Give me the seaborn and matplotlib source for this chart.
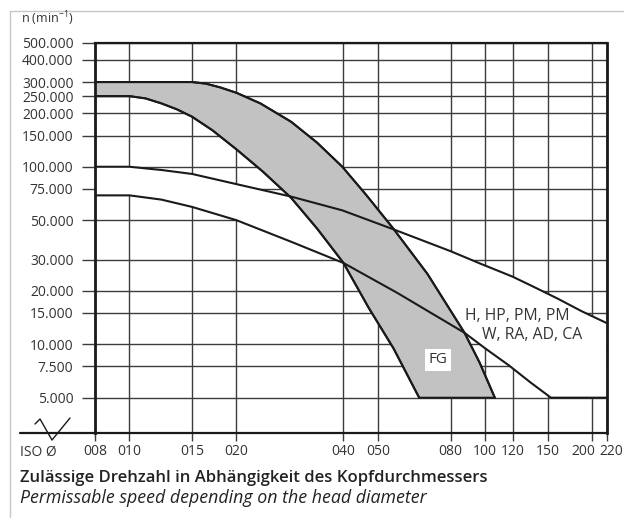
import matplotlib
matplotlib.use("Agg")
import matplotlib.pyplot as plt
import seaborn as sns
import pandas as pd
from matplotlib.lines import Line2D
from matplotlib.ticker import NullLocator
from matplotlib.transforms import ScaledTranslation


# ---------------------------------------------------------------------
# Data (x = ISO head diameter, y = n in min^-1)
# ---------------------------------------------------------------------
x_ticks = [8, 10, 15, 20, 40, 50, 80, 100, 120, 150, 200, 220]
x_labels = ["008", "010", "015", "020", "040", "050", "080", "100", "120", "150", "200", "220"]

y_ticks = [5000, 7500, 10000, 15000, 20000, 30000, 50000, 75000,
           100000, 150000, 200000, 250000, 300000, 400000, 500000]
y_labels = ["5.000", "7.500", "10.000", "15.000", "20.000", "30.000", "50.000", "75.000",
            "100.000", "150.000", "200.000", "250.000", "300.000", "400.000", "500.000"]

# FG band, upper and lower limit
fg_upper_d = [8, 15, 16.4, 18.0, 20, 23.35, 28.5, 33.7, 39.7, 46.5, 55.3, 68.9, 87.6, 96.6, 106.6]
fg_upper_n = [300000, 300000, 294000, 280000, 261000, 227500, 179200, 136800, 100000,
              68800, 44700, 24900, 11600, 7880, 5000]
fg_lower_d = [8, 10, 11.1, 12.3, 13.6, 15, 17.1, 20, 23.7, 28.5, 33.7, 40, 47.0, 55.3, 65.3]
fg_lower_n = [250000, 250000, 242700, 227500, 210600, 191400, 160700, 125300, 94100,
              66800, 44900, 28700, 16150, 9480, 5000]

# H, HP, PM curve (upper limit of the white band)
hp_d = [8, 10, 12.3, 15, 20.4, 28.5, 39.7, 55.3, 80, 97.3, 119.4, 137.5, 160.3, 186.7, 220]
hp_n = [100000, 100000, 95900, 91100, 79100, 67900, 56800, 44400, 33460, 28400,
        24070, 21000, 18060, 15380, 13160]

# W, RA, AD, CA curve (lower limit of the white band)
wra_d = [8, 10, 12.3, 15, 20, 28.5, 40, 56.6, 87.6, 100.5, 116.8, 134.2, 153.3, 220]
wra_n = [69000, 69000, 65300, 59400, 50000, 37800, 28700, 19500, 11600, 9430,
         7600, 6100, 5000, 5000]

x_lim = (8, 220)
y_lim = (3150, 500000)

W, H = 624, 518
AX_L, AX_R, AX_T, AX_B = 95, 606.7, 42.7, 433.3

GRID = "#3c3c3c"
INK = "#1a1a1a"
BAND = "#c2c2c2"
TXT = "#333333"


def px_to_axes(px, py):
    return (px - AX_L) / (AX_R - AX_L), (AX_B - py) / (AX_B - AX_T)


# ---------------------------------------------------------------------
# Figure
# ---------------------------------------------------------------------
sns.set_theme(style="white")
plt.rcParams["font.family"] = ["Open Sans", "DejaVu Sans"]
plt.rcParams["mathtext.fontset"] = "custom"
plt.rcParams["mathtext.rm"] = "Open Sans"

fig = plt.figure(figsize=(W / 100, H / 100), dpi=100)
ax = fig.add_axes([AX_L / W, 1 - AX_B / H, (AX_R - AX_L) / W, (AX_B - AX_T) / H])
ax.set_xscale("log")
ax.set_yscale("log")

# white band between the two curves (hides the grid)
band = pd.DataFrame({"d": hp_d + wra_d[::-1], "n": hp_n + wra_n[::-1]})
ax.fill(band["d"], band["n"], facecolor="white", edgecolor="none", zorder=1.2)

# FG band
fg = pd.DataFrame({"d": fg_upper_d + fg_lower_d[::-1], "n": fg_upper_n + fg_lower_n[::-1]})
ax.fill(fg["d"], fg["n"], facecolor=BAND, edgecolor=INK, lw=1.4, zorder=1.4,
        joinstyle="round")

for d, n in [(fg_upper_d, fg_upper_n), (fg_lower_d, fg_lower_n), (hp_d, hp_n), (wra_d, wra_n)]:
    sns.lineplot(x=d, y=n, sort=False, estimator=None, color=INK, lw=1.5, ax=ax, zorder=2.2,
                 solid_joinstyle="round", solid_capstyle="round")

ax.set_xlim(*x_lim)
ax.set_ylim(*y_lim)
ax.set_xticks(x_ticks)
ax.set_xticklabels(x_labels)
ax.set_yticks(y_ticks)
ax.set_yticklabels(y_labels)
ax.xaxis.set_minor_locator(NullLocator())
ax.yaxis.set_minor_locator(NullLocator())
ax.grid(True, which="major", color=GRID, lw=1.0)
ax.set_axisbelow(True)

ax.tick_params(axis="y", which="major", direction="out", length=9.5, width=1.0,
               color=GRID, pad=6, labelsize=10, labelcolor=TXT, left=True)
ax.tick_params(axis="x", which="major", direction="out", length=6, width=1.0,
               color=GRID, pad=2, labelsize=10, labelcolor=TXT, bottom=True)

# the last two x labels sit close together: nudge them apart
for lbl in ax.get_xticklabels():
    shift = {"200": -9, "220": 5}.get(lbl.get_text())
    if shift:
        lbl.set_transform(lbl.get_transform() + ScaledTranslation(shift / 100, 0, fig.dpi_scale_trans))

for side, lw in [("left", 2.0), ("right", 2.0), ("top", 1.6), ("bottom", 1.6)]:
    ax.spines[side].set_visible(True)
    ax.spines[side].set_color(INK)
    ax.spines[side].set_linewidth(lw)

# labels inside the plot
ax.text(87.6, 14400, "H, HP, PM, PM", fontsize=11.3, color=TXT,
        ha="left", va="center", zorder=4)
ax.text(98.4, 11300, "W, RA, AD, CA", fontsize=11.3, color=TXT,
        ha="left", va="center", zorder=4)
ax.text(73.9, 8200, "FG", fontsize=11, color=TXT, ha="center", va="center", zorder=4,
        bbox=dict(facecolor="white", edgecolor="none", pad=2.5))

# axis break and extension of the bottom axis
x0, _ = px_to_axes(20, 0)
ax.plot([x0, 0], [0, 0], transform=ax.transAxes, color=INK, lw=1.6, clip_on=False)
zz = [px_to_axes(px, py) for px, py in [(35, 424), (40, 419), (52, 440), (70, 418)]]
ax.plot([p[0] for p in zz], [p[1] for p in zz], transform=ax.transAxes,
        color=INK, lw=1.0, clip_on=False)

fig.text(20 / W, 1 - 452 / H, "ISO Ø", fontsize=10, color=TXT, ha="left", va="center")
fig.text(74 / W, 1 - 19 / H, r"n (min$^{\mathregular{-1}}$)", fontsize=9, color=TXT,
         ha="right", va="center")

fig.text(20 / W, 1 - 478 / H, "Zulässige Drehzahl in Abhängigkeit des Kopfdurchmessers",
         fontsize=12, fontweight="semibold", color="#222222", ha="left", va="center")
fig.text(20 / W, 1 - 498 / H, "Permissable speed depending on the head diameter",
         fontsize=12.8, fontstyle="italic", color="#222222", ha="left", va="center")

# light frame around the picture
fig.add_artist(Line2D([10 / W, 10 / W], [0, 1 - 11 / H], color="#c8c8c8", lw=1.0))
fig.add_artist(Line2D([10 / W, 1], [1 - 11 / H, 1 - 11 / H], color="#c8c8c8", lw=1.0))

fig.savefig("out.png", dpi=100)
